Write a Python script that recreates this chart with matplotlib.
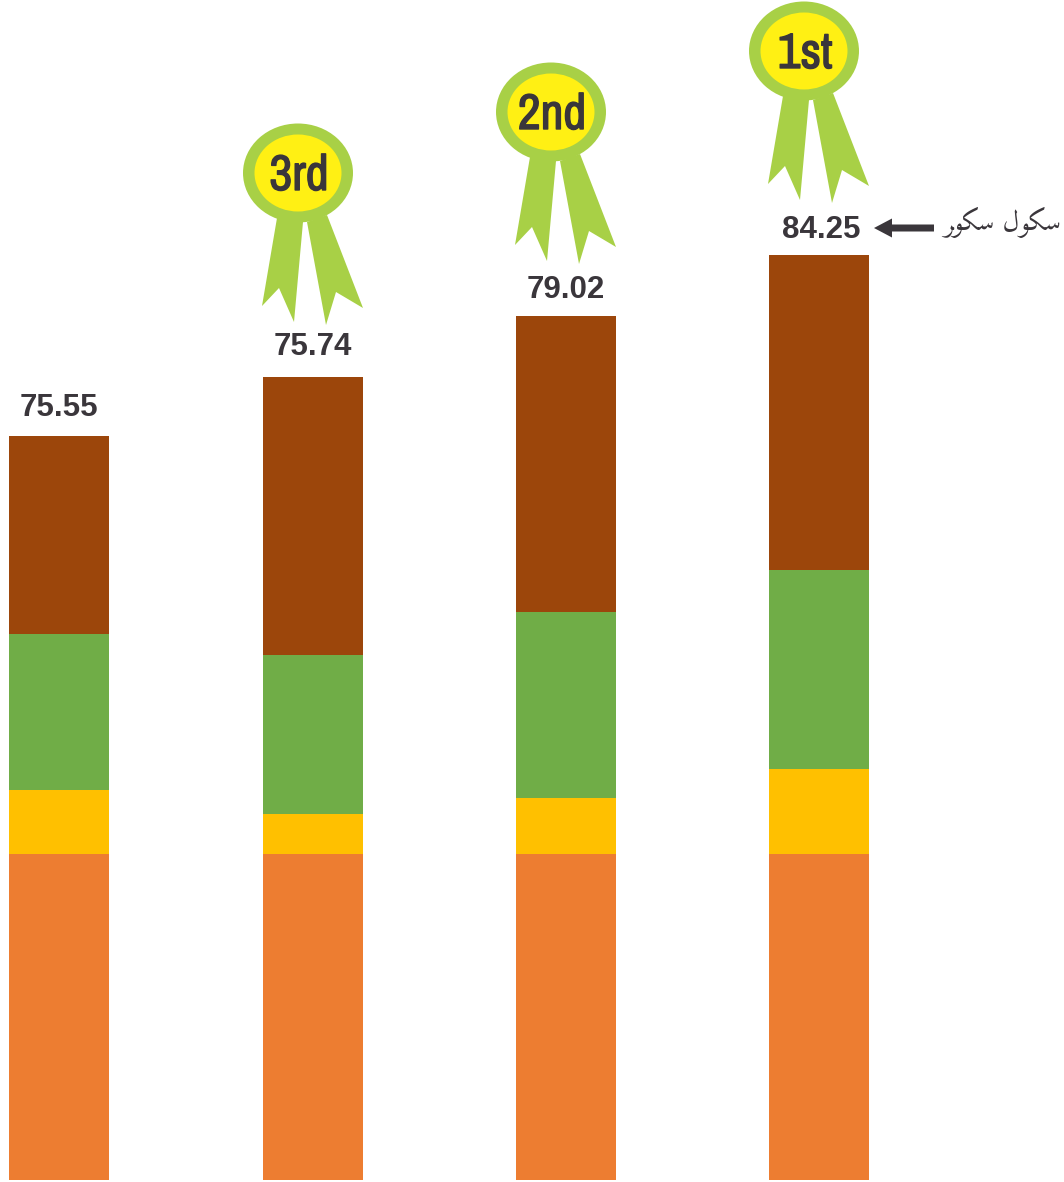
import matplotlib
matplotlib.use('Agg')
import matplotlib.pyplot as plt
import matplotlib.patheffects as pe
import numpy as np
from matplotlib.patches import Ellipse, Polygon

# Values (segment heights in picture units, no axis shown)
schools = np.array([59, 313, 566, 819])
orange = np.array([326, 326, 326, 326])
yellow = np.array([64, 40, 56, 85])
green = np.array([156, 159, 186, 199])
brown = np.array([198, 278, 296, 315])
scores = ['75.55', '75.74', '79.02', '84.25']
ranks = [None, '3rd', '2nd', '1st']
score_gaps = [30, 32, 28, 27]

# Urdu label, visual order with presentation forms since matplotlib does no shaping
urdu_label = '\uFEAE\uFEEE\uFB91\uFEB3 \uFEDD\uFEEE\uFB91\uFEB3'

DARK = '#3A363B'
RIBBON = '#A8D046'

# ribbon tails relative to rosette centre
left_tail = np.array([(-21, -45), (5, -49), (-4, -149), (-19, -115), (-36, -133)])
right_tail = np.array([(9, -49), (29, -42), (65, -135), (38, -119), (28, -152)])


def draw_rosette(ax, x, y, text):
    ax.add_patch(Polygon(left_tail + (x, y), closed=True, fc=RIBBON, ec='none', zorder=3))
    ax.add_patch(Polygon(right_tail + (x, y), closed=True, fc=RIBBON, ec='none', zorder=3))
    ax.add_patch(Ellipse((x, y), 110, 99, fc=RIBBON, ec='none', zorder=4))
    ax.add_patch(Ellipse((x, y), 87, 77, fc='#FFF014', ec='none', zorder=5))
    t = ax.text(x + 1, y + 1, text, ha='center', va='center_baseline', fontsize=36, fontweight='bold',
                family=['Archivo Narrow', 'Liberation Sans'], color=DARK, zorder=6)
    # the narrow font has no bold cut, so thicken it with a stroke
    t.set_path_effects([pe.withStroke(linewidth=1.0, foreground=DARK)])


fig = plt.figure(figsize=(10.64, 11.82), dpi=100)
ax = fig.add_axes([0, 0, 1, 1])

# stacked bars
bottom = np.zeros(4)
for vals, col in zip([orange, yellow, green, brown], ['#ED7D31', '#FFC000', '#70AD47', '#9C460B']):
    ax.bar(schools, vals, width=100, bottom=bottom, color=col, linewidth=0)
    bottom = bottom + vals

for i in range(len(schools)):
    ax.text(schools[i] + (2 if i == 3 else 0), bottom[i] + score_gaps[i] - 2, scores[i], ha='center',
            va='center', fontsize=22.5, fontweight='bold', family='Liberation Sans', color=DARK)
    if ranks[i] is not None:
        draw_rosette(ax, schools[i] - 15, bottom[i] + 204, ranks[i])

# arrow pointing at the top score
ax.arrow(934, bottom[3] + 27, -60, 0, width=7, head_width=19, head_length=18,
         length_includes_head=True, fc=DARK, ec='none')
ax.text(1002, bottom[3] + 33, urdu_label, ha='center', va='center', fontsize=20,
        family=['Amiri', 'DejaVu Sans'], color=DARK)

ax.set_xlim(0, 1064)
ax.set_ylim(-2, 1180)
ax.axis('off')

plt.savefig('out.png', dpi=100)
